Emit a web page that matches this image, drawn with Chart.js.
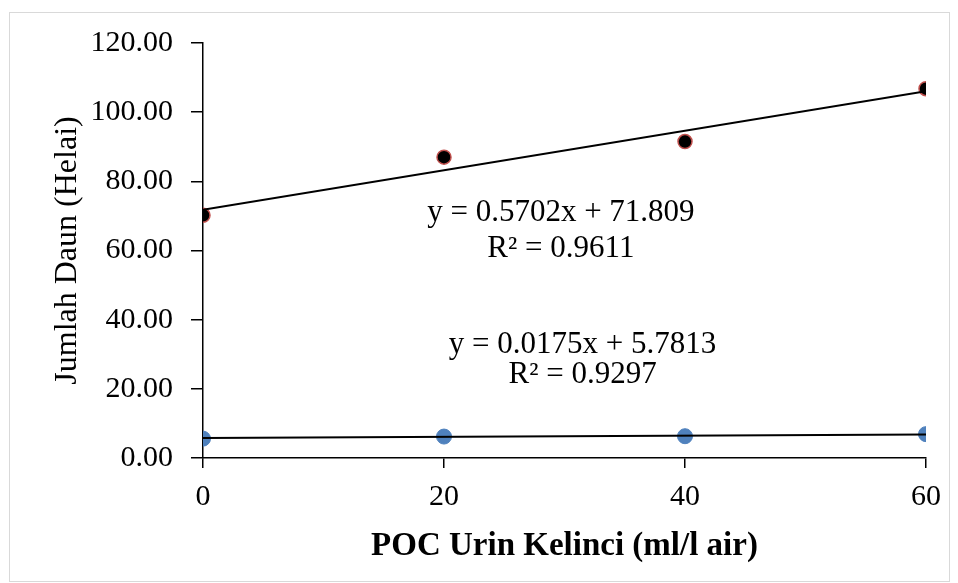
<!DOCTYPE html>
<html>
<head>
<meta charset="utf-8">
<script src="https://cdn.jsdelivr.net/npm/chart.js@4"></script>
<style>
  body { margin: 0; background: #fff; }
  canvas { display: block; }
</style>
</head>
<body>
<canvas id="chart" width="958" height="583"></canvas>
<script>
// Data
const doses = [0, 20, 40, 60];
const leavesTop = [70.2, 87.0, 91.5, 106.8];
const leavesBottom = [5.6, 6.2, 6.3, 6.9];

// Trendline coefficients and their labels (as printed on the chart)
const trendSlopes = [0.5702, 0.0175];
const trendIntercepts = [71.809, 5.7813];
const trendText = [
  ['y = 0.5702x + 71.809', 'R\u00b2 = 0.9611'],
  ['y = 0.0175x + 5.7813', 'R\u00b2 = 0.9297'],
];

const xTitle = 'POC Urin Kelinci (ml/l air)';
const yTitle = 'Jumlah Daun (Helai)';

const FONT = "'Liberation Serif', 'Times New Roman', serif";

function trendPoints(i) {
  const x0 = doses[0];
  const x1 = doses[doses.length - 1];
  return [
    { x: x0, y: trendSlopes[i] * x0 + trendIntercepts[i] },
    { x: x1, y: trendSlopes[i] * x1 + trendIntercepts[i] },
  ];
}

// where the equation labels sit, in data units
const labelAnchors = [
  { x: 29.7, y: 70.8, gap: 36 },
  { x: 31.5, y: 32.6, gap: 30 },
];

// Frame around the whole chart + trendline equations
const extras = {
  id: 'extras',
  beforeDraw(chart) {
    const ctx = chart.ctx;
    ctx.save();
    ctx.strokeStyle = '#d9d9d9';
    ctx.lineWidth = 1;
    ctx.strokeRect(9.5, 12.5, 940, 569);
    ctx.restore();
  },
  afterDraw(chart) {
    const ctx = chart.ctx;
    const xs = chart.scales.x;
    const ys = chart.scales.y;
    ctx.save();
    ctx.fillStyle = '#000';
    ctx.font = '31px ' + FONT;
    ctx.textAlign = 'center';
    ctx.textBaseline = 'middle';
    labelAnchors.forEach((a, i) => {
      const px = xs.getPixelForValue(a.x);
      const py = ys.getPixelForValue(a.y);
      ctx.fillText(trendText[i][0], px, py);
      ctx.fillText(trendText[i][1], px, py + a.gap);
    });
    ctx.restore();
  },
};

const ctx = document.getElementById('chart').getContext('2d');

new Chart(ctx, {
  type: 'scatter',
  data: {
    datasets: [
      {
        type: 'line',
        data: trendPoints(0),
        borderColor: '#000',
        borderWidth: 2,
        pointRadius: 0,
        order: 0,
      },
      {
        type: 'line',
        data: trendPoints(1),
        borderColor: '#000',
        borderWidth: 2,
        pointRadius: 0,
        order: 0,
      },
      {
        data: doses.map((d, i) => ({ x: d, y: leavesTop[i] })),
        backgroundColor: '#000',
        borderColor: '#c0504d',
        borderWidth: 1.5,
        pointRadius: 7,
        order: 1,
      },
      {
        data: doses.map((d, i) => ({ x: d, y: leavesBottom[i] })),
        backgroundColor: '#4f81bd',
        borderColor: '#4f81bd',
        borderWidth: 1,
        pointRadius: 7.5,
        order: 1,
      },
    ],
  },
  options: {
    responsive: false,
    animation: false,
    layout: {
      padding: { top: 43, right: 32, bottom: 0, left: 0 },
    },
    plugins: {
      legend: { display: false },
      tooltip: { enabled: false },
    },
    scales: {
      x: {
        type: 'linear',
        min: 0,
        max: 60,
        afterFit: (scale) => { scale.height = 125; },
        ticks: {
          stepSize: 20,
          color: '#000',
          padding: 11,
          font: { family: FONT, size: 30 },
        },
        grid: {
          drawOnChartArea: false,
          color: '#000',
          lineWidth: 1.5,
          tickLength: 10,
        },
        border: { color: '#000', width: 1.5 },
        title: {
          display: true,
          text: xTitle,
          color: '#000',
          font: { family: FONT, size: 33, weight: 'bold' },
          padding: { top: 0, bottom: 17 },
        },
      },
      y: {
        min: 0,
        max: 120,
        afterFit: (scale) => { scale.width = 203; },
        ticks: {
          stepSize: 20,
          color: '#000',
          padding: 18,
          font: { family: FONT, size: 30 },
          callback: (v) => Number(v).toFixed(2),
        },
        grid: {
          drawOnChartArea: false,
          color: '#000',
          lineWidth: 1.5,
          tickLength: 12,
        },
        border: { color: '#000', width: 1.5 },
        title: {
          display: true,
          text: yTitle,
          color: '#000',
          font: { family: FONT, size: 32 },
          padding: { top: 48, bottom: 0 },
        },
      },
    },
  },
  plugins: [extras],
});
</script>
</body>
</html>
